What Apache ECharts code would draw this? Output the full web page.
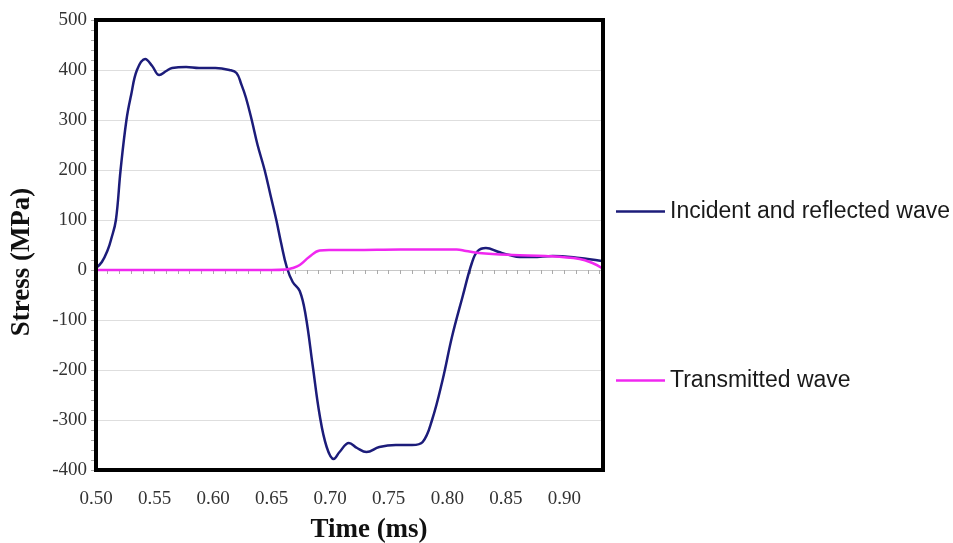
<!DOCTYPE html>
<html>
<head>
<meta charset="utf-8">
<script src="https://cdn.jsdelivr.net/npm/echarts@6/dist/echarts.min.js"></script>
<style>
html,body{margin:0;padding:0;background:#fff;}
#chart{width:953px;height:543px;}
</style>
</head>
<body>
<div id="chart"></div>
<script>
// Data
var incidentTime = [0.500,0.505,0.510,0.513,0.517,0.521,0.526,0.530,0.535,0.542,0.548,0.554,0.560,0.565,0.577,0.588,0.602,0.614,0.620,0.624,0.628,0.633,0.638,0.644,0.649,0.654,0.658,0.663,0.668,0.674,0.679,0.685,0.691,0.697,0.703,0.708,0.716,0.723,0.731,0.742,0.756,0.770,0.779,0.787,0.796,0.804,0.813,0.821,0.826,0.833,0.844,0.853,0.862,0.873,0.890,0.913,0.932];
var incidentStress = [4,16,40,62,100,200,300,350,400,422,408,390,398,404,406,404,404,400,394,372,345,300,250,200,150,100,55,5,-24,-42,-90,-190,-290,-354,-378,-364,-346,-356,-364,-354,-350,-350,-344,-300,-220,-134,-54,14,38,44,36,30,26,26,28,24,18];
var transmittedTime = [0.500,0.550,0.600,0.650,0.662,0.668,0.674,0.682,0.691,0.699,0.720,0.760,0.800,0.808,0.816,0.827,0.856,0.884,0.913,0.924,0.932];
var transmittedStress = [0,0,0,0,1,4,10,26,39,40,40,41,41,41,38,34,30,28,22,14,4];
var seriesNames = ['Incident and reflected wave', 'Transmitted wave'];
var xTicks = [0.50,0.55,0.60,0.65,0.70,0.75,0.80,0.85,0.90];

function pairs(xs, ys){ return xs.map(function(x,i){ return [x, ys[i]]; }); }

var chart = echarts.init(document.getElementById('chart'));
var serif = '"Liberation Serif","Times New Roman",serif';
var sans = '"Liberation Sans",Arial,sans-serif';
chart.setOption({
  animation: false,
  backgroundColor: '#fff',
  grid: {left: 96, right: 350, top: 20, bottom: 73, show: false},
  graphic: [
    {type: 'rect', shape: {x: 96, y: 20, width: 507, height: 450}, z: 100,
     style: {fill: 'none', stroke: '#000', lineWidth: 4}},
    {type: 'text', x: 22, y: 262, rotation: Math.PI / 2, z: 100,
     style: {text: 'Stress (MPa)', font: 'bold 27px ' + serif, fill: '#111', textAlign: 'center', textVerticalAlign: 'middle'}},
    {type: 'text', x: 369, y: 530, z: 100,
     style: {text: 'Time (ms)', font: 'bold 27px ' + serif, fill: '#111', textAlign: 'center', textVerticalAlign: 'middle'}}
  ],
  legend: [
    {data: [seriesNames[0]], left: 611, top: 195, orient: 'vertical', icon: 'rect', itemWidth: 49, itemHeight: 2.5,
     textStyle: {fontFamily: sans, fontSize: 23, color: '#1a1a1a'}},
    {data: [seriesNames[1]], left: 611, top: 364, orient: 'vertical', icon: 'rect', itemWidth: 49, itemHeight: 2.5,
     textStyle: {fontFamily: sans, fontSize: 23, color: '#1a1a1a'}}
  ],
  xAxis: [
    {type: 'value', min: 0.5, max: 0.933, interval: 0.05, position: 'bottom',
     axisLine: {show: false, onZero: false}, axisTick: {show: false}, splitLine: {show: false},
     axisLabel: {showMaxLabel: false, margin: 20, fontFamily: serif, fontSize: 19, color: '#333',
       formatter: function(v){ return xTicks.some(function(t){return Math.abs(t-v)<1e-6;}) ? v.toFixed(2) : ''; }}},
    {type: 'value', min: 0.5, max: 0.933, interval: 0.01, position: 'bottom',
     axisLine: {show: true, onZero: true, lineStyle: {color: '#c8c8c8', width: 1}},
     axisTick: {show: true, length: 4, lineStyle: {color: '#aaa'}},
     axisLabel: {show: false}, splitLine: {show: false}}
  ],
  yAxis: {
    type: 'value', min: -400, max: 500, interval: 100,
    axisLine: {show: false}, axisTick: {show: true, length: 5, lineStyle: {color: '#aaa'}},
    minorTick: {show: true, splitNumber: 5, length: 5, lineStyle: {color: '#aaa'}},
    splitLine: {show: true, lineStyle: {color: '#dedede', width: 1}},
    axisLabel: {margin: 9, fontFamily: serif, fontSize: 19, color: '#333'}
  },
  series: [
    {name: seriesNames[0], type: 'line', xAxisIndex: 0, data: pairs(incidentTime, incidentStress),
     smooth: 0.4, showSymbol: false, symbol: 'none', lineStyle: {color: '#1c1c7a', width: 2.5}, itemStyle: {color: '#1c1c7a'}, z: 3},
    {name: seriesNames[1], type: 'line', xAxisIndex: 0, data: pairs(transmittedTime, transmittedStress),
     smooth: 0.4, showSymbol: false, symbol: 'none', lineStyle: {color: '#f028f0', width: 2.5}, itemStyle: {color: '#f028f0'}, z: 4}
  ]
});
</script>
</body>
</html>
